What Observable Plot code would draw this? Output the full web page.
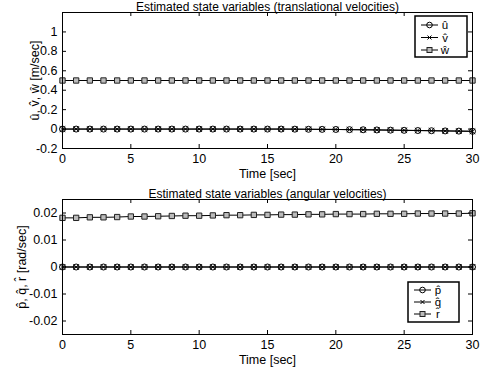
<!DOCTYPE html>
<html><head><meta charset="utf-8">
<script src="https://cdn.jsdelivr.net/npm/d3@7"></script>
<script src="https://cdn.jsdelivr.net/npm/@observablehq/plot@0.6"></script>
<style>
body{margin:0;background:#fff;}
#c svg{display:block;}
</style>
</head><body><div id="c"></div><script>
const time = [0,1,2,3,4,5,6,7,8,9,10,11,12,13,14,15,16,17,18,19,20,21,22,23,24,25,26,27,28,29,30];
const uHat = [0,0,0,0,0,0,0,0,0,0,0,0,0,0,0,0,0,-0.001,-0.002,-0.003,-0.004,-0.006,-0.007,-0.009,-0.011,-0.013,-0.015,-0.017,-0.019,-0.021,-0.023];
const vHat = [0,0,0,0,0,0,0,0,0,0,0,0,0,0,0,0,0,-0.001,-0.002,-0.003,-0.004,-0.006,-0.007,-0.009,-0.011,-0.013,-0.015,-0.017,-0.019,-0.021,-0.023];
const wHat = [0.5,0.5,0.5,0.5,0.5,0.5,0.5,0.5,0.5,0.5,0.5,0.5,0.5,0.5,0.5,0.5,0.5,0.5,0.5,0.5,0.5,0.5,0.5,0.5,0.5,0.5,0.5,0.5,0.5,0.5,0.5];
const pHat = [0,0,0,0,0,0,0,0,0,0,0,0,0,0,0,0,0,0,0,0,0,0,0,0,0,0,0,0,0,0,0];
const qHat = [0,0,0,0,0,0,0,0,0,0,0,0,0,0,0,0,0,0,0,0,0,0,0,0,0,0,0,0,0,0,0];
const rHat = [0.0182,0.0182,0.0184,0.0184,0.0185,0.0187,0.0187,0.0188,0.0189,0.019,0.019,0.0191,0.0192,0.0192,0.0193,0.0193,0.0194,0.0194,0.0195,0.0195,0.0196,0.0196,0.0196,0.0197,0.0197,0.0197,0.0198,0.0198,0.0198,0.0198,0.0199];
const xTicks = [0,5,10,15,20,25,30];
const yTicksTop = [-0.2,0,0.2,0.4,0.6,0.8,1];
const yTicksBottom = [-0.02,-0.01,0,0.01,0.02];
const topTitle = "Estimated state variables (translational velocities)";
const bottomTitle = "Estimated state variables (angular velocities)";
const xLabel = "Time [sec]";
const topYLabel = "u\u0302, v\u0302, w\u0302 [m/sec]";
const bottomYLabel = "p\u0302, q\u0302, r\u0302 [rad/sec]";
const topNames = ["u\u0302","v\u0302","w\u0302"];
const bottomNames = ["p\u0302","q\u0302","r\u0302"];
const symbols = ["circle","times","square"];

const FONT = "Liberation Sans, Arial, sans-serif";
const W = 486;

function chart({title, ylabel, yDomain, yTicks, series, height, marginTop, marginBottom, labelOffsetY, legend}) {
  const mL = 62, mR = 14;
  const fw = W - mL - mR, fh = height - marginTop - marginBottom;
  const marks = [];
  series.forEach((s, i) => {
    const data = time.map((t, j) => ({t, v: s[j]}));
    marks.push(Plot.line(data, {x: "t", y: "v", stroke: "black", strokeWidth: 1}));
    marks.push(Plot.dot(data, {x: "t", y: "v", symbol: () => symbols[i], r: i === 1 ? 2.6 : 3, stroke: i === 2 ? "#222" : "black", fill: i === 2 ? "#bbb" : "none", strokeWidth: 1}));
  });
  marks.push(
    Plot.tickX(xTicks, {x: d => d, insetTop: fh - 4, stroke: "black"}),
    Plot.tickX(xTicks, {x: d => d, insetBottom: fh - 4, stroke: "black"}),
    Plot.tickY(yTicks, {y: d => d, insetRight: fw - 4, stroke: "black"}),
    Plot.tickY(yTicks, {y: d => d, insetLeft: fw - 4, stroke: "black"}),
    Plot.frame({stroke: "black", strokeWidth: 1}),
    Plot.text([title], {frameAnchor: "top", lineAnchor: "bottom", dy: -2, fontSize: 12, fill: "black"})
  );
  const svg = Plot.plot({
    width: W, height, marginLeft: mL, marginRight: mR, marginTop, marginBottom,
    style: {fontFamily: FONT, fontSize: "12.5px", color: "black", background: "white", overflow: "visible"},
    x: {domain: [0, 30], ticks: xTicks, tickSize: 0, tickPadding: 6, label: xLabel, labelAnchor: "center", labelOffset: 29, labelArrow: "none", tickFormat: d => String(d)},
    y: {domain: yDomain, ticks: yTicks, tickSize: 0, tickPadding: 5, label: ylabel, labelAnchor: "center", labelOffset: labelOffsetY, labelArrow: "none", tickFormat: d => String(d)},
    marks
  });
  // legend box
  const g = d3.select(svg).append("g").attr("font-family", FONT).attr("font-size", 11.5);
  const {x, y, w, h, rows} = legend;
  g.append("rect").attr("x", x).attr("y", y).attr("width", w).attr("height", h)
    .attr("fill", "white").attr("stroke", "black").attr("stroke-width", 1.5);
  rows.forEach((ry, i) => {
    g.append("line").attr("x1", x + 6).attr("x2", x + 23).attr("y1", ry).attr("y2", ry).attr("stroke", "black");
    const cx = x + 14.5;
    if (i === 0) g.append("circle").attr("cx", cx).attr("cy", ry).attr("r", 2.8).attr("fill", "none").attr("stroke", "black");
    if (i === 1) g.append("path").attr("d", `M${cx-2},${ry-2}L${cx+2},${ry+2}M${cx-2},${ry+2}L${cx+2},${ry-2}`).attr("stroke", "black");
    if (i === 2) g.append("rect").attr("x", cx - 2.5).attr("y", ry - 2.5).attr("width", 5).attr("height", 5).attr("fill", "#bbb").attr("stroke", "#222");
    g.append("text").attr("x", x + 30).attr("y", ry).attr("dy", "0.35em").text(legend.names[i]);
  });
  return svg;
}

const c = document.getElementById("c");
c.append(chart({
  title: topTitle, ylabel: topYLabel, yDomain: [-0.2, 1.2], yTicks: yTicksTop,
  series: [uHat, vHat, wHat], height: 182, marginTop: 12, marginBottom: 34, labelOffsetY: 32,
  legend: {x: 415, y: 16, w: 52, h: 41, rows: [25, 37.5, 50], names: topNames}
}));
c.append(chart({
  title: bottomTitle, ylabel: bottomYLabel, yDomain: [-0.025, 0.025], yTicks: yTicksBottom,
  series: [pHat, qHat, rHat], height: 193, marginTop: 17, marginBottom: 41, labelOffsetY: 45,
  legend: {x: 408, y: 100, w: 51, h: 40, rows: [108, 120, 132], names: bottomNames}
}));
</script></body></html>
